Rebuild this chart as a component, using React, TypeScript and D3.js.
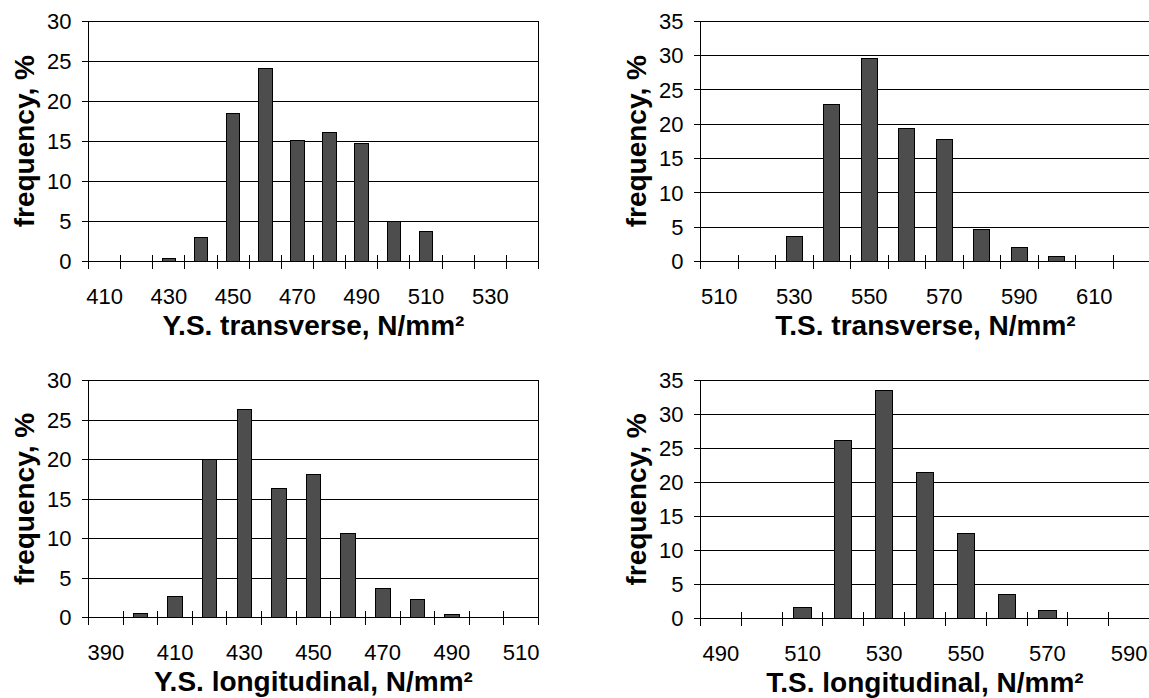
import React from "react";
import * as d3 from "d3";

// histogram data
const ysTransBins = [410, 420, 430, 440, 450, 460, 470, 480, 490, 500, 510, 520, 530, 540];
const ysTransFreq = [0, 0, 0.35, 2.95, 18.5, 24.1, 15.15, 16.05, 14.7, 5.05, 3.7, 0, 0, 0];
const ysTransLabels = [410, 430, 450, 470, 490, 510, 530];

const tsTransBins = [510, 520, 530, 540, 550, 560, 570, 580, 590, 600, 610, 620];
const tsTransFreq = [0, 0, 3.65, 22.9, 29.5, 19.4, 17.7, 4.65, 2.0, 0.75, 0, 0];
const tsTransLabels = [510, 530, 550, 570, 590, 610];

const ysLongBins = [390, 400, 410, 420, 430, 440, 450, 460, 470, 480, 490, 500, 510];
const ysLongFreq = [0, 0.5, 2.65, 20.0, 26.3, 16.35, 18.05, 10.65, 3.65, 2.25, 0.35, 0, 0];
const ysLongLabels = [390, 410, 430, 450, 470, 490, 510];

const tsLongBins = [490, 500, 510, 520, 530, 540, 550, 560, 570, 580, 590];
const tsLongFreq = [0, 0, 1.65, 26.2, 33.5, 21.5, 12.5, 3.6, 1.25, 0, 0];
const tsLongLabels = [490, 510, 530, 550, 570, 590];

const yTicks30 = [0, 5, 10, 15, 20, 25, 30];
const yTicks35 = [0, 5, 10, 15, 20, 25, 30, 35];

const width = 1149;
const height = 698;
const font = "Arial, 'Liberation Sans', sans-serif";
const pad = 0.58; // bar gap

function Histogram({ left, top, bottom, plotWidth, bins, freq, labels, yTicks, yMax, title }) {
  const xScale = d3
    .scaleBand()
    .domain(bins)
    .range([left, left + plotWidth])
    .paddingInner(pad)
    .paddingOuter(pad / 2);
  const yScale = d3.scaleLinear().domain([0, yMax]).range([bottom, top]);
  const step = xScale.step();
  const edge = (c) => xScale(c) - (step * pad) / 2;
  const boundaries = bins.map(edge).concat([left + plotWidth]);
  const cx = left + plotWidth / 2;
  const cy = (top + bottom) / 2;

  return (
    <g>
      {/* gridlines */}
      {yTicks.map((t) => (
        <line key={"g" + t} x1={left - 7} x2={left + plotWidth} y1={yScale(t)} y2={yScale(t)}
          stroke="#000" strokeWidth={1} shapeRendering="crispEdges" />
      ))}
      <rect x={left} y={top} width={plotWidth} height={bottom - top} fill="none"
        stroke="#000" strokeWidth={1} shapeRendering="crispEdges" />

      {/* bars */}
      {bins.map((b, i) =>
        freq[i] > 0 ? (
          <rect key={"b" + b} x={xScale(b)} y={yScale(freq[i])} width={xScale.bandwidth()}
            height={bottom - yScale(freq[i])} fill="#4d4d4d" stroke="#000" strokeWidth={1}
            shapeRendering="crispEdges" />
        ) : null
      )}

      {/* x ticks, crossing the axis */}
      {boundaries.map((x, i) => (
        <line key={"t" + i} x1={x} x2={x} y1={bottom - 7} y2={bottom + 7} stroke="#000"
          strokeWidth={1} shapeRendering="crispEdges" />
      ))}
      <line x1={left} x2={left + plotWidth} y1={bottom} y2={bottom} stroke="#000"
        strokeWidth={1} shapeRendering="crispEdges" />

      {/* tick labels */}
      {yTicks.map((t) => (
        <text key={"yl" + t} x={left - 17} y={yScale(t)} dy="0.36em" textAnchor="end"
          fontFamily={font} fontSize={22}>{t}</text>
      ))}
      {labels.map((l) => (
        <text key={"xl" + l} x={xScale(l) + xScale.bandwidth() / 2} y={bottom + 42}
          textAnchor="middle" fontFamily={font} fontSize={22}>{l}</text>
      ))}

      {/* axis titles */}
      <text x={cx} y={bottom + 73} textAnchor="middle" fontFamily={font} fontSize={28}
        fontWeight="bold">{title}</text>
      <text transform={`translate(${left - 55},${cy}) rotate(-90)`} textAnchor="middle"
        fontFamily={font} fontSize={28} fontWeight="bold">frequency, %</text>
    </g>
  );
}

export default function App() {
  return (
    <div style={{ position: "absolute", left: 0, top: 0 }}>
      <svg width={width} height={height} viewBox={`0 0 ${width} ${height}`}
        style={{ display: "block", background: "#fff" }}>
        <Histogram left={88.5} top={21} bottom={261.5} plotWidth={450} bins={ysTransBins}
          freq={ysTransFreq} labels={ysTransLabels} yTicks={yTicks30} yMax={30}
          title="Y.S. transverse, N/mm²" />
        <Histogram left={700.5} top={21} bottom={261.5} plotWidth={450} bins={tsTransBins}
          freq={tsTransFreq} labels={tsTransLabels} yTicks={yTicks35} yMax={35}
          title="T.S. transverse, N/mm²" />
        <Histogram left={88.5} top={380.5} bottom={617.5} plotWidth={450} bins={ysLongBins}
          freq={ysLongFreq} labels={ysLongLabels} yTicks={yTicks30} yMax={30}
          title="Y.S. longitudinal, N/mm²" />
        <Histogram left={700.5} top={380.5} bottom={618.5} plotWidth={449} bins={tsLongBins}
          freq={tsLongFreq} labels={tsLongLabels} yTicks={yTicks35} yMax={35}
          title="T.S. longitudinal, N/mm²" />
      </svg>
    </div>
  );
}
